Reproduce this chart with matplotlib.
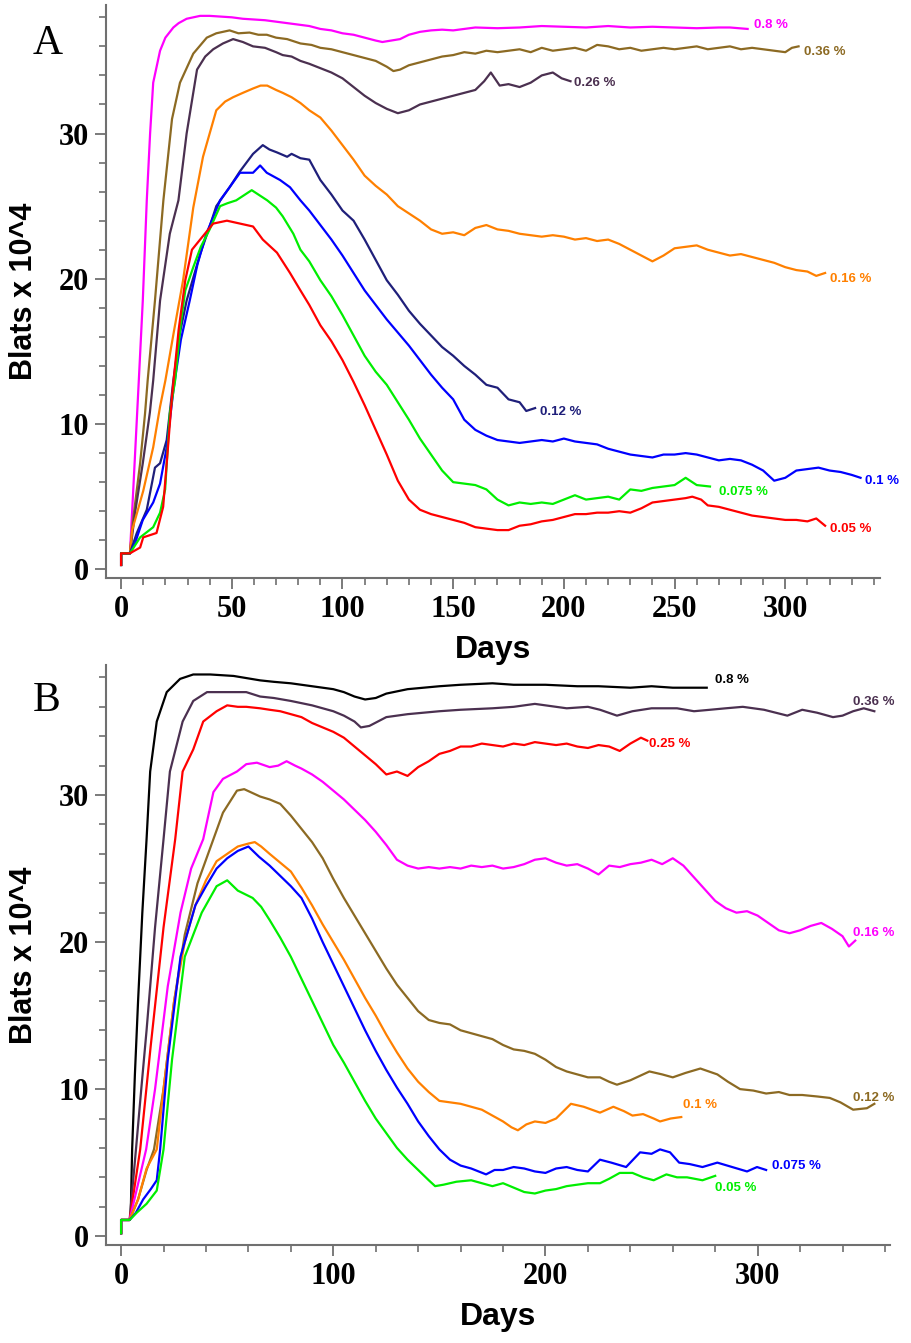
import matplotlib
matplotlib.use("Agg")
import matplotlib.pyplot as plt
from matplotlib.ticker import MultipleLocator

#####################################################
# Data (day, Blats x 10^4)
#####################################################

# Panel A
a_08 = [(0,0.3),(0,1.1),(4,1.1),(5.4,5.2),(7,10),(8,13),(9.8,18.5),(11.6,25.4),(13.1,30),(14.5,33.5),
        (17.6,35.7),(20,36.6),(23.6,37.3),(26,37.6),(29.6,37.9),(35.7,38.1),(40,38.1),(45,38.05),(50,38.0),
        (55,37.9),(60,37.85),(65,37.8),(70,37.7),(75,37.6),(80,37.5),(85,37.4),(90,37.2),(95,37.1),(100,36.9),
        (105,36.8),(110,36.6),(115,36.4),(118,36.3),(122,36.4),(126,36.5),(130,36.8),(135,37.0),(140,37.1),
        (145,37.15),(150,37.1),(155,37.2),(160,37.3),(170,37.25),(180,37.3),(190,37.4),(200,37.35),(210,37.3),
        (220,37.4),(230,37.3),(240,37.35),(250,37.3),(260,37.25),(270,37.3),(275,37.3),(283,37.2)]
a_036 = [(0,0.3),(0,1.1),(4,1.1),(5.4,3.4),(8.6,7.3),(10.8,10.7),(12,13),(15.3,18.5),(19.1,25.4),(23,31),
         (26.6,33.5),(32.6,35.5),(38.7,36.6),(43,36.9),(49,37.1),(53,36.9),(58,36.95),(62,36.8),(65.8,36.8),
         (70,36.6),(75,36.5),(81,36.2),(86,36.1),(90,35.9),(95,35.8),(100,35.6),(105,35.4),(110,35.2),(115,35.0),
         (120,34.6),(123,34.3),(126,34.4),(130,34.7),(135,34.9),(140,35.1),(145,35.3),(150,35.4),(155,35.6),
         (160,35.5),(165,35.7),(170,35.6),(175,35.7),(180,35.8),(185,35.6),(190,35.9),(195,35.7),(200,35.8),
         (205,35.9),(210,35.7),(215,36.1),(220,36.0),(225,35.8),(230,35.9),(235,35.7),(240,35.8),(245,35.9),
         (250,35.8),(255,35.9),(260,36.0),(265,35.8),(270,35.9),(275,36.0),(280,35.8),(285,35.9),(290,35.8),
         (295,35.7),(300,35.6),(303,35.9),(306,36.0)]
a_026 = [(0,0.3),(0,1.1),(4,1.1),(6.3,3.9),(9.8,7.3),(13,10.8),(14.5,13),(17.6,18.5),(22,23.1),(25.9,25.4),
         (29.6,30),(34.3,34.4),(38,35.3),(41.6,35.8),(46,36.2),(50.6,36.5),(55,36.3),(59.6,36.0),(65,35.9),
         (70,35.6),(73,35.4),(77,35.3),(81,35.0),(85,34.8),(90,34.5),(95,34.2),(100,33.8),(105,33.2),(110,32.6),
         (115,32.1),(120,31.7),(125,31.4),(130,31.6),(135,32.0),(140,32.2),(145,32.4),(150,32.6),(155,32.8),
         (160,33.0),(164,33.6),(167,34.2),(171,33.3),(175,33.4),(180,33.2),(185,33.5),(190,34.0),(195,34.2),
         (199,33.8),(203,33.6)]
a_016 = [(0,0.3),(0,1.1),(4,1.1),(5,2.7),(10,5.4),(14.5,8.4),(17.6,11.2),(20,13),(24,16.5),(28,19.9),
         (32.6,24.9),(37,28.4),(43,31.6),(47,32.2),(50.6,32.5),(55,32.8),(59.6,33.1),(63,33.3),(66,33.3),
         (70,33.0),(73,32.8),(77,32.5),(81,32.1),(85,31.6),(90,31.1),(95,30.2),(100,29.2),(105,28.2),(110,27.1),
         (115,26.4),(120,25.8),(125,25.0),(130,24.5),(135,24.0),(140,23.4),(145,23.1),(150,23.2),(155,23.0),
         (160,23.5),(165,23.7),(170,23.4),(175,23.3),(180,23.1),(185,23.0),(190,22.9),(195,23.0),(200,22.9),
         (205,22.7),(210,22.8),(215,22.6),(220,22.7),(225,22.4),(230,22.0),(235,21.6),(240,21.2),(245,21.6),
         (250,22.1),(255,22.2),(260,22.3),(265,22.0),(270,21.8),(275,21.6),(280,21.7),(285,21.5),(290,21.3),
         (295,21.1),(300,20.8),(305,20.6),(310,20.5),(314,20.2),(318,20.4)]
a_012 = [(0,0.3),(0,1.1),(4,1.1),(7.1,2.5),(11.6,4.1),(15.3,7.0),(17.6,7.3),(20.6,8.9),(23.6,13),(26.5,16.2),
         (29.6,18.5),(35.7,21.7),(40,23.6),(43,25),(49,26.3),(53.7,27.4),(59.6,28.6),(64,29.2),(67,28.9),
         (70.4,28.7),(75,28.4),(77,28.6),(81,28.3),(85,28.2),(90,26.8),(95,25.8),(100,24.7),(105,24.0),(110,22.7),
         (115,21.3),(120,19.9),(125,18.9),(130,17.8),(135,16.9),(140,16.1),(145,15.3),(150,14.7),(155,14.0),
         (160,13.4),(165,12.7),(170,12.5),(175,11.7),(180,11.5),(183,10.9),(187,11.1)]
a_01 = [(0,0.3),(0,1.1),(4,1.1),(6.3,1.8),(9.8,3.4),(14.5,4.6),(17.6,5.9),(20.6,8.4),(23.6,12.3),(27,15.8),
        (31,18.5),(34.5,21),(38.5,23.1),(44.7,25.4),(49,26.3),(53.7,27.3),(59.6,27.3),(62.8,27.8),(65.8,27.3),
        (71.8,26.8),(76.3,26.3),(81,25.4),(85,24.7),(90,23.7),(95,22.7),(100,21.6),(105,20.4),(110,19.2),
        (115,18.2),(120,17.2),(125,16.3),(130,15.4),(135,14.4),(140,13.4),(145,12.5),(150,11.7),(155,10.3),
        (160,9.6),(165,9.2),(170,8.9),(175,8.8),(180,8.7),(185,8.8),(190,8.9),(195,8.8),(200,9.0),(205,8.8),
        (210,8.7),(215,8.6),(220,8.3),(225,8.1),(230,7.9),(235,7.8),(240,7.7),(245,7.9),(250,7.9),(255,8.0),
        (260,7.9),(265,7.7),(270,7.5),(275,7.6),(280,7.5),(285,7.2),(290,6.8),(295,6.1),(300,6.3),(305,6.8),
        (310,6.9),(315,7.0),(320,6.8),(325,6.7),(330,6.5),(334,6.3)]
a_0075 = [(0,0.3),(0,1.1),(4,1.1),(8.6,2.2),(14.5,2.9),(17.6,3.9),(19.9,5.5),(22,10.7),(24.4,13),(27,17),
          (29,19.2),(32.6,20.8),(36,22.2),(40,23.4),(44.7,25),(48,25.2),(52,25.4),(56,25.8),(59,26.1),(62,25.8),
          (66,25.4),(70,24.9),(73,24.3),(77.8,23.1),(81,22),(85,21.2),(90,19.9),(95,18.8),(100,17.5),(105,16.1),
          (110,14.7),(115,13.6),(120,12.7),(125,11.5),(130,10.3),(135,9.0),(140,7.9),(145,6.8),(150,6.0),
          (155,5.9),(160,5.8),(165,5.5),(170,4.8),(175,4.4),(180,4.6),(185,4.5),(190,4.6),(195,4.5),(200,4.8),
          (205,5.1),(210,4.8),(215,4.9),(220,5.0),(225,4.8),(230,5.5),(235,5.4),(240,5.6),(245,5.7),(250,5.8),
          (255,6.3),(260,5.8),(266,5.7)]
a_005 = [(0,0.3),(0,1.1),(4,1.1),(8.6,1.5),(10,2.2),(16,2.5),(19,4.3),(20.6,7.3),(23,11.9),(26,16.5),
         (29,19.9),(32,22),(35.7,22.7),(41.6,23.8),(47.8,24.0),(53.7,23.8),(59.6,23.6),(64,22.7),(70.4,21.8),
         (76.3,20.4),(81,19.2),(85,18.2),(90,16.8),(95,15.7),(100,14.4),(105,12.9),(110,11.3),(115,9.6),
         (120,7.9),(125,6.1),(130,4.8),(135,4.1),(140,3.8),(145,3.6),(150,3.4),(155,3.2),(160,2.9),(165,2.8),
         (170,2.7),(175,2.7),(180,3.0),(185,3.1),(190,3.3),(195,3.4),(200,3.6),(205,3.8),(210,3.8),(215,3.9),
         (220,3.9),(225,4.0),(230,3.9),(235,4.2),(240,4.6),(245,4.7),(250,4.8),(255,4.9),(258,5.0),(262,4.8),
         (265,4.4),(270,4.3),(275,4.1),(280,3.9),(285,3.7),(290,3.6),(295,3.5),(300,3.4),(305,3.4),(310,3.3),
         (314,3.5),(318,3.0)]

# Panel B
b_08 = [(0,0.2),(0,1.1),(4,1.1),(4.5,1.3),(5.2,5.9),(6.5,11),(8,16),(10,22),(12,27),(13.7,31.6),(16.8,35),
        (21.5,37),(27.8,37.9),(34,38.2),(42,38.2),(53,38.1),(65.5,37.8),(72,37.7),(80,37.6),(90,37.4),
        (100,37.2),(105,37.0),(110,36.7),(115,36.5),(120,36.6),(125,36.9),(135,37.2),(150,37.4),(160,37.5),
        (175,37.6),(185,37.5),(200,37.5),(215,37.4),(225,37.4),(240,37.3),(250,37.4),(260,37.3),(270,37.3),
        (276,37.3)]
b_036 = [(0,0.2),(0,1.1),(4,1.1),(7,5.9),(9.5,10),(12,14),(16,21),(20,27),(23,31.6),(29,35),(34,36.4),
         (40.5,37),(50,37),(59,37),(65.5,36.7),(72,36.6),(80,36.4),(90,36.1),(100,35.7),(105,35.4),(110,35.0),
         (113,34.6),(117,34.7),(125,35.3),(135,35.5),(150,35.7),(160,35.8),(175,35.9),(185,36.0),(195,36.2),
         (200,36.1),(210,35.9),(220,36.0),(225.7,35.8),(233.7,35.4),(241,35.7),(250,35.9),(262,35.9),(270,35.7),
         (277.6,35.8),(285,35.9),(293,36.0),(303,35.8),(314,35.4),(321,35.8),(328,35.6),(335.5,35.3),(340,35.4),
         (345,35.7),(350,35.9),(355,35.7)]
b_025 = [(0,0.2),(0,1.1),(4,1.1),(9,5.9),(14,13),(20,21),(25.5,27),(29,31.6),(34,33.1),(38.7,35),(45,35.7),
         (50,36.1),(55,36.0),(59,36.0),(65.5,35.9),(70,35.8),(75,35.7),(80,35.5),(85,35.3),(90,34.9),(95,34.6),
         (100,34.3),(105,33.9),(110,33.3),(115,32.7),(120,32.1),(125,31.4),(130,31.6),(135,31.3),(140,31.9),
         (145,32.3),(150,32.8),(155,33.0),(160,33.3),(165,33.3),(170,33.5),(175,33.4),(180,33.3),(185,33.5),
         (190,33.4),(195,33.6),(200,33.5),(205,33.4),(210,33.5),(215,33.3),(220,33.2),(225,33.4),(230,33.3),
         (235,33.0),(240,33.5),(245,33.9),(248,33.7)]
b_016 = [(0,0.2),(0,1.1),(4,1.1),(11.8,5.9),(16,10),(22,17),(28,22),(33,25),(38.7,27),(43.5,30.2),(48,31.1),
         (54.6,31.6),(59,32.1),(64,32.2),(70,31.9),(74,32.0),(78,32.3),(82,32.0),(85,31.8),(90,31.4),(95,30.9),
         (100,30.3),(105,29.7),(110,29.0),(115,28.3),(120,27.5),(125,26.6),(130,25.6),(135,25.2),(140,25.0),
         (145,25.1),(150,25.0),(155,25.1),(160,25.0),(165,25.2),(170,25.1),(175,25.2),(180,25.0),(185,25.1),
         (190,25.3),(195,25.6),(200,25.7),(205,25.4),(210,25.2),(215,25.3),(220,25.0),(225,24.6),(230,25.2),
         (235,25.1),(240,25.3),(245,25.4),(250,25.6),(255,25.3),(260,25.7),(265,25.2),(270,24.4),(275,23.6),
         (280,22.8),(285,22.3),(290,22.0),(295,22.1),(300,21.8),(305,21.3),(310,20.8),(315,20.6),(320,20.8),
         (325,21.1),(330,21.3),(335,20.9),(340,20.4),(343,19.7),(346,20.1)]
b_012 = [(0,0.2),(0,1.1),(4,1.1),(8,2.5),(12,4.5),(15.5,5.9),(20,10),(25,16),(30,20.5),(36,24),(43.5,27),
         (48,28.8),(54.6,30.3),(58,30.4),(61,30.2),(65.5,29.9),(70,29.7),(75,29.4),(80,28.6),(85,27.7),(90,26.8),
         (95,25.7),(100,24.3),(105,23.0),(110,21.8),(115,20.6),(120,19.4),(125,18.2),(130,17.1),(135,16.2),
         (140,15.3),(145,14.7),(150,14.5),(155,14.4),(160,14.0),(165,13.8),(170,13.6),(175,13.4),(180,13.0),
         (185,12.7),(190,12.6),(195,12.4),(200,12.0),(205,11.5),(210,11.2),(215,11.0),(220,10.8),(225.7,10.8),
         (230,10.5),(233.7,10.3),(240,10.6),(249,11.2),(255,11.0),(260,10.8),(266,11.1),(273,11.4),(277,11.2),
         (281,11.0),(286,10.5),(291.7,10.0),(298,9.9),(304,9.7),(310,9.8),(315,9.6),(321,9.6),(328,9.5),
         (334,9.4),(339,9.1),(345,8.6),(351.5,8.7),(355,9.0)]
b_01 = [(0,0.2),(0,1.1),(4,1.1),(8,2.5),(12,4.6),(16.8,5.9),(20,10),(25,16),(30,20),(35,22.5),(40,24.2),
        (45,25.5),(50,26.0),(55,26.5),(60,26.7),(63,26.8),(66,26.5),(70,26.0),(75,25.4),(80,24.8),(85,23.7),
        (90,22.5),(95,21.2),(100,20.0),(105,18.8),(110,17.5),(115,16.2),(120,15.0),(125,13.7),(130,12.5),
        (135,11.4),(140,10.5),(145,9.8),(150,9.2),(155,9.1),(160,9.0),(165,8.8),(170,8.6),(175,8.2),(180,7.8),
        (184,7.4),(187,7.2),(191,7.6),(195,7.8),(200,7.7),(205,8.0),(212,9.0),(218,8.8),(225.7,8.4),(232,8.8),
        (237,8.5),(241,8.2),(246,8.3),(251,8.0),(254,7.8),(259,8.0),(264,8.1)]
b_0075 = [(0,0.2),(0,1.1),(4,1.1),(7,1.6),(10.4,2.5),(14,3.2),(16.8,3.8),(18.4,5.9),(22,12),(28,19),(35,22.5),
          (40,23.8),(45,25),(50,25.7),(55,26.2),(60,26.5),(65,25.8),(70,25.2),(75,24.5),(80,23.8),(85,23.0),
          (90,21.6),(95,20.0),(100,18.5),(105,17.0),(110,15.5),(115,14.0),(120,12.6),(125,11.3),(130,10.1),
          (135,9.0),(140,7.8),(145,6.8),(150,5.9),(155,5.2),(160,4.8),(165,4.6),(172,4.2),(176,4.5),(180,4.5),
          (185,4.7),(190,4.6),(195,4.4),(200,4.3),(205,4.6),(210,4.7),(215,4.5),(220,4.4),(225.7,5.2),(231,5.0),
          (238,4.7),(244.6,5.7),(250,5.6),(254,5.9),(258.7,5.7),(263,5.0),(268,4.9),(274,4.7),(281,5.0),
          (288,4.7),(295,4.4),(299.7,4.7),(304,4.5)]
b_005 = [(0,0.2),(0,1.1),(4,1.1),(7.4,1.6),(12,2.2),(16.8,3.1),(18.4,4.5),(20,5.9),(24,12),(30,19),(38,22),
         (45,23.8),(50,24.2),(55,23.5),(62,23.0),(66,22.4),(70,21.5),(75,20.3),(80,19.0),(85,17.5),(90,16.0),
         (95,14.5),(100,13.0),(105,11.8),(110,10.5),(115,9.2),(120,8.0),(125,7.0),(130,6.0),(135,5.2),(140,4.5),
         (145,3.8),(148,3.4),(152,3.5),(158,3.7),(165,3.8),(170,3.6),(175,3.4),(180,3.6),(185,3.3),(190,3.0),
         (195,2.9),(200,3.1),(205,3.2),(210,3.4),(215,3.5),(220,3.6),(225.7,3.6),(230,3.9),(235,4.3),(241,4.3),
         (246,4.0),(251,3.8),(257,4.2),(262,4.0),(266.7,4.0),(274,3.8),(280,4.1)]

# series names, colours and label anchor (day, value)
a_names = ["0.8 %", "0.36 %", "0.26 %", "0.16 %", "0.12 %", "0.1 %", "0.075 %", "0.05 %"]
a_colors = ["#FF00FF", "#8C6A23", "#4B3050", "#FF8000", "#1F1F7A", "#0000FF", "#00EE00", "#FF0000"]
a_labelpos = [(286, 37.5), (308.5, 35.6), (204.5, 33.5), (320, 20.0), (189, 10.8), (336, 6.1), (270, 5.3), (320, 2.75)]

b_names = ["0.8 %", "0.36 %", "0.25 %", "0.16 %", "0.12 %", "0.1 %", "0.075 %", "0.05 %"]
b_colors = ["#000000", "#4B3050", "#FF0000", "#FF00FF", "#8C6A23", "#FF8000", "#0000FF", "#00EE00"]
b_labelpos = [(280, 37.8), (345, 36.3), (249, 33.5), (345, 20.6), (345, 9.4), (265, 8.9), (307, 4.8), (280, 3.3)]

a_series = [a_08, a_036, a_026, a_016, a_012, a_01, a_0075, a_005]
b_series = [b_08, b_036, b_025, b_016, b_012, b_01, b_0075, b_005]

#####################################################
# Helper
#####################################################

def drawPanel(ax, series, names, colors, labelpos, xlim, xmajor, xminor, letter, letter_y):
    for pts, name, col, lp in zip(series, names, colors, labelpos):
        days = [p[0] for p in pts]
        vals = [p[1] for p in pts]
        ax.plot(days, vals, color=col, lw=1.6)
        ax.text(lp[0], lp[1], name, color=col, fontsize=9.5, fontweight="bold",
                family="Liberation Sans", ha="left", va="center")

    ax.set_xlim(*xlim)
    ax.set_ylim(-0.6, 38.85)
    ax.xaxis.set_major_locator(MultipleLocator(xmajor))
    ax.xaxis.set_minor_locator(MultipleLocator(xminor))
    ax.yaxis.set_major_locator(MultipleLocator(10))
    ax.yaxis.set_minor_locator(MultipleLocator(2))

    for s in ["top", "right"]:
        ax.spines[s].set_visible(False)
    for s in ["left", "bottom"]:
        ax.spines[s].set_color("#707070")
        ax.spines[s].set_linewidth(1.5)

    ax.tick_params(which="major", length=8, width=1.3, color="#707070", pad=4)
    ax.tick_params(which="minor", length=5, width=1.2, color="#707070")
    for lab in ax.get_xticklabels() + ax.get_yticklabels():
        lab.set_family("Liberation Serif")
        lab.set_fontweight("bold")
        lab.set_fontsize(22)

    ax.set_xlabel("Days", family="Liberation Sans", fontweight="bold", fontsize=23, labelpad=8)
    ax.set_ylabel("Blats x 10^4", family="Liberation Sans", fontweight="bold", fontsize=22, labelpad=14)
    ax.text(-0.076, letter_y, letter, transform=ax.transAxes, family="Liberation Serif",
            fontsize=30, ha="center", va="center")

#####################################################
# Figure
#####################################################

fig = plt.figure(figsize=(9.11, 13.43), dpi=100)
axA = fig.add_axes([0.1164, 0.5696, 0.8496, 0.4267])
axB = fig.add_axes([0.1164, 0.0730, 0.8606, 0.4319])

drawPanel(axA, a_series, a_names, a_colors, a_labelpos, (-6.8, 342.8), 50, 10, "A", 0.932)
drawPanel(axB, b_series, b_names, b_colors, b_labelpos, (-7.1, 362.4), 100, 20, "B", 0.938)

fig.savefig("out.png", dpi=100)
